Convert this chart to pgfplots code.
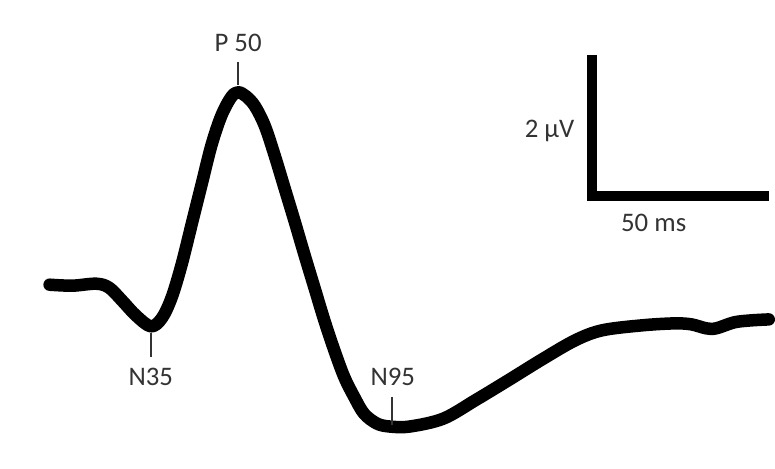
\documentclass[border=0pt]{standalone}
\usepackage{pgfplots}
\pgfplotsset{compat=1.18}
\usepackage{fontspec}
\setmainfont{Carlito}
\definecolor{lab}{HTML}{333333}
\begin{document}
\begin{tikzpicture}
\begin{axis}[
  width=387.5pt, height=236pt, scale only axis,
  xmin=0, xmax=775, ymin=0, ymax=472, y dir=reverse,
  hide axis, clip=false,
]
% waveform (pixel coordinates of the figure, y downward)
\addplot[black, line width=6.3pt, line cap=round, line join=round, smooth, tension=0.55] coordinates {
(50,287) (73,288) (97,286) (110,290) (123,303) (137,318) (152,329)
(163,321) (173,300) (183,267) (193,227) (203,187) (213,147) (223,117)
(233,98) (240,93) (248,97) (257,107) (267,127) (277,157) (287,190)
(297,223) (307,257) (317,290) (327,323) (337,353) (347,380) (357,400)
(367,417) (380,427) (393,430) (413,430) (447,422)
(480,403) (513,383) (547,362) (580,343) (607,333) (647,328) (680,326)
(697,327) (712,331) (722,331) (740,325) (757,323) (775,322)
};
% peak markers
\addplot[black!80, line width=0.9pt] coordinates {(240,62) (240,86)};
\addplot[black!80, line width=0.9pt] coordinates {(152,336) (152,360)};
\addplot[black!80, line width=0.9pt] coordinates {(395,400) (395,428)};
% scale bar
\addplot[black, line width=5pt, line join=miter] coordinates {(597,55) (597,198) (775,198)};
\node[text=lab, font=\fontsize{13.5}{15}\selectfont] at (axis cs:240,43) {P 50};
\node[text=lab, font=\fontsize{13.5}{15}\selectfont] at (axis cs:152,380) {N35};
\node[text=lab, font=\fontsize{13.5}{15}\selectfont] at (axis cs:396,380) {N95};
\node[text=lab, font=\fontsize{13.5}{15}\selectfont] at (axis cs:554,132) {2 µV};
\node[text=lab, font=\fontsize{13.5}{15}\selectfont] at (axis cs:659,225) {50 ms};
\path[use as bounding box] (axis cs:0,0) rectangle (axis cs:775,472);
\end{axis}
\end{tikzpicture}
\end{document}
